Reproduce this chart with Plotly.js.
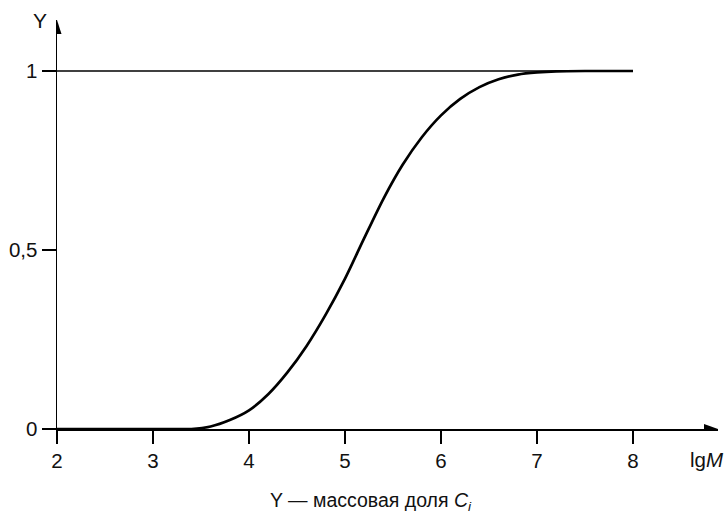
<!DOCTYPE html>
<html>
<head>
<meta charset="utf-8">
<script src="https://cdn.plot.ly/plotly-3.0.1.min.js"></script>
<style>html,body{margin:0;padding:0;background:#fff;}#chart{width:727px;height:514px;}</style>
</head>
<body>
<div id="chart"></div>
<script>
// Data
const lgM = [2, 3, 3.4, 3.6, 3.8, 4.0, 4.2, 4.4, 4.6, 4.8, 5.0, 5.2, 5.4, 5.6, 5.8, 6.0, 6.2, 6.4, 6.6, 6.8, 7.0, 7.2, 7.5, 8.0];
const massFraction = [0, 0, 0.0, 0.007, 0.025, 0.052, 0.097, 0.158, 0.232, 0.32, 0.42, 0.533, 0.643, 0.738, 0.815, 0.876, 0.922, 0.955, 0.977, 0.99, 0.996, 0.999, 1.0, 1.0];
const limitX = [2, 8];
const limitY = [1, 1];
const xTicks = [2, 3, 4, 5, 6, 7, 8];
const xTickLabels = ['2', '3', '4', '5', '6', '7', '8'];
const yTicks = [0, 0.5, 1];
const yTickLabels = ['0', '0,5', '1'];

const FONT = 'Liberation Sans, Arial, sans-serif';
const xMax = 8.885, yMax = 1.1425;

const traces = [
  {x: limitX, y: limitY, mode: 'lines', line: {color: '#000', width: 1.3}, hoverinfo: 'skip', cliponaxis: false},
  {x: lgM, y: massFraction, mode: 'lines', line: {color: '#000', width: 2.7, shape: 'spline', smoothing: 0.75}, cliponaxis: false}
];

const layout = {
  width: 727, height: 514,
  margin: {l: 57, r: 9, t: 20, b: 85},
  paper_bgcolor: '#fff', plot_bgcolor: '#fff',
  showlegend: false,
  font: {family: FONT, size: 18, color: '#111'},
  xaxis: {
    range: [2, xMax], showgrid: false, zeroline: false,
    showline: true, linecolor: '#000', linewidth: 1.5,
    ticks: 'outside', ticklen: 13, tickwidth: 1.4, tickcolor: '#000',
    tickmode: 'array', tickvals: xTicks, ticktext: xTickLabels,
    tickfont: {family: FONT, size: 20.5, color: '#111'}
  },
  yaxis: {
    range: [0, yMax], showgrid: false, zeroline: false,
    showline: true, linecolor: '#000', linewidth: 1.5,
    ticks: 'outside', ticklen: 14, tickwidth: 1.4, tickcolor: '#000',
    tickmode: 'array', tickvals: yTicks, ticktext: yTickLabels,
    tickfont: {family: FONT, size: 20.5, color: '#111'}
  },
  shapes: [
    {type: 'path', xref: 'x', yref: 'y', xsizemode: 'pixel', ysizemode: 'pixel',
     xanchor: xMax, yanchor: 0, path: 'M0,0 L-14,5 L-14,-5 Z',
     fillcolor: '#000', line: {width: 0}},
    {type: 'path', xref: 'x', yref: 'y', xsizemode: 'pixel', ysizemode: 'pixel',
     xanchor: 2, yanchor: yMax, path: 'M0,0 L-4.5,-14 L4.5,-14 Z',
     fillcolor: '#000', line: {width: 0}}
  ],
  annotations: [
    {text: 'Y', xref: 'x', yref: 'y', x: 2, y: yMax, xanchor: 'right', yanchor: 'middle',
     xshift: -8, yshift: 0, showarrow: false, font: {family: FONT, size: 21, color: '#111'}},
    {text: 'lg<i>M</i>', xref: 'paper', yref: 'y', x: 1, y: 0, xanchor: 'right', yanchor: 'top',
     xshift: 8, yshift: -17, showarrow: false, font: {family: FONT, size: 20.5, color: '#111'}},
    {text: 'Y — массовая доля <i>C<sub>i</sub></i>', xref: 'paper', yref: 'paper', x: 0.475, y: 0,
     xanchor: 'center', yanchor: 'top', yshift: -58, showarrow: false,
     font: {family: FONT, size: 19.5, color: '#111'}}
  ]
};

Plotly.newPlot('chart', traces, layout, {staticPlot: true, displayModeBar: false});
</script>
</body>
</html>
